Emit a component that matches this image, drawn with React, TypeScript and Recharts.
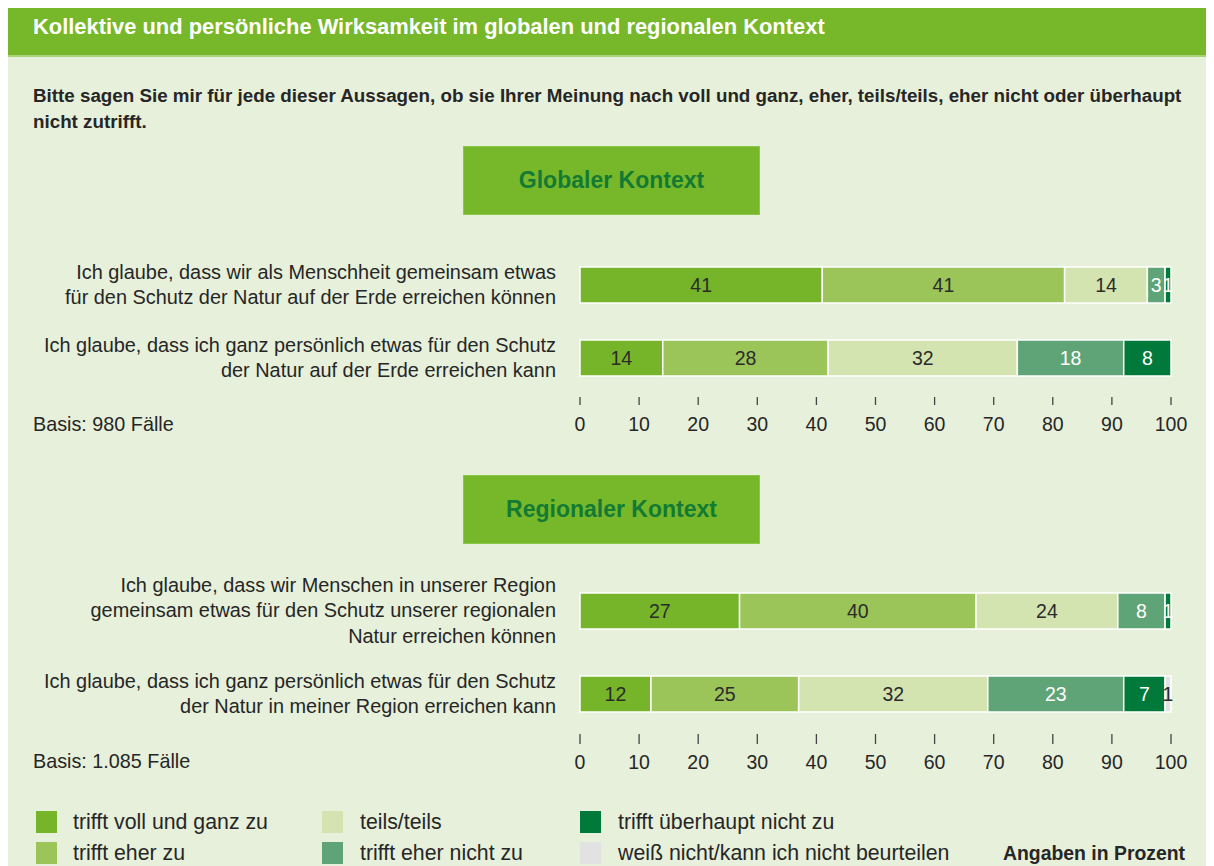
import React from 'react';
import { BarChart, Bar, XAxis, YAxis, LabelList } from 'recharts';

// ---------- data ----------
const seriesKeys = ['voll', 'eher', 'teils', 'eherNicht', 'nicht', 'weissNicht'];
const seriesNames = [
  'trifft voll und ganz zu',
  'trifft eher zu',
  'teils/teils',
  'trifft eher nicht zu',
  'trifft überhaupt nicht zu',
  'weiß nicht/kann ich nicht beurteilen',
];
const seriesColors = ['#76b52a', '#9bc459', '#d3e4b0', '#5fa476', '#00793a', '#e2e2e2'];
const labelColors = ['#2b2b2b', '#2b2b2b', '#2b2b2b', '#ffffff', '#ffffff', '#2b2b2b'];

const globalCategories = [
  'Ich glaube, dass wir als Menschheit gemeinsam etwas\nfür den Schutz der Natur auf der Erde erreichen können',
  'Ich glaube, dass ich ganz persönlich etwas für den Schutz\nder Natur auf der Erde erreichen kann',
];
const globalVoll = [41, 14];
const globalEher = [41, 28];
const globalTeils = [14, 32];
const globalEherNicht = [3, 18];
const globalNicht = [1, 8];
const globalWeissNicht = [0, 0];

const regionalCategories = [
  'Ich glaube, dass wir Menschen in unserer Region\ngemeinsam etwas für den Schutz unserer regionalen\nNatur erreichen können',
  'Ich glaube, dass ich ganz persönlich etwas für den Schutz\nder Natur in meiner Region erreichen kann',
];
const regionalVoll = [27, 12];
const regionalEher = [40, 25];
const regionalTeils = [24, 32];
const regionalEherNicht = [8, 23];
const regionalNicht = [1, 7];
const regionalWeissNicht = [0, 1];

const axisTicks = [0, 10, 20, 30, 40, 50, 60, 70, 80, 90, 100];

const buildRows = (cats: string[], cols: number[][]) =>
  cats.map((name, i) => {
    const row: any = { name };
    seriesKeys.forEach((k, s) => (row[k] = cols[s][i]));
    return row;
  });

const globalData = buildRows(globalCategories, [
  globalVoll, globalEher, globalTeils, globalEherNicht, globalNicht, globalWeissNicht,
]);
const regionalData = buildRows(regionalCategories, [
  regionalVoll, regionalEher, regionalTeils, regionalEherNicht, regionalNicht, regionalWeissNicht,
]);

// ---------- styles ----------
const FONT = "'Liberation Sans', Arial, sans-serif";
const TEXT = '#262626';
const PANEL_BG = '#e7f0da';
const HEADER_GREEN = '#77b72a';
const BOX_TEXT = '#137a34';

const px = (v: number) => v - 8; // page coords -> panel coords

const makeYTick = (lineHeight: number) => (props: any) => {
  const { x, y, payload } = props;
  const lines = String(payload.value).split('\n');
  const start = y - ((lines.length - 1) * lineHeight) / 2;
  return (
    <text x={x} y={start} textAnchor="end" fill={TEXT} fontFamily={FONT} fontSize={19.9}>
      {lines.map((l, i) => (
        <tspan key={i} x={x} dy={i === 0 ? '0.35em' : lineHeight}>
          {l}
        </tspan>
      ))}
    </text>
  );
};

const makeXTick = (lineTop: number, lineBottom: number, textCenter: number) => (props: any) => {
  const { x, y, payload } = props;
  return (
    <g>
      <line x1={x} x2={x} y1={y + lineTop} y2={y + lineBottom} stroke="#444" strokeWidth={1.3} />
      <text
        x={x}
        y={y + textCenter}
        textAnchor="middle"
        dominantBaseline="central"
        fill={TEXT}
        fontFamily={FONT}
        fontSize={19.5}
      >
        {payload.value}
      </text>
    </g>
  );
};

const makeBarLabel = (color: string) => (props: any) => {
  const { x, y, width, height, value } = props;
  if (!value) return null;
  return (
    <text
      x={x + width / 2}
      y={y + height / 2}
      textAnchor="middle"
      dominantBaseline="central"
      fill={color}
      fontFamily={FONT}
      fontSize={19.5}
    >
      {value}
    </text>
  );
};

type ChartProps = {
  data: any[];
  top: number;
  plotTop: number;
  plotHeight: number;
  lineHeight: number;
  tickCfg: [number, number, number];
};

const StackChart = ({ data, top, plotTop, plotHeight, lineHeight, tickCfg }: ChartProps) => {
  const axisH = 46;
  const height = plotTop + plotHeight + axisH;
  return (
    <div style={{ position: 'absolute', left: 0, top: px(top) }}>
      <BarChart
        width={1200}
        height={height}
        data={data}
        layout="vertical"
        margin={{ top: plotTop, right: 37, bottom: 0, left: 0 }}
        barSize={36}
      >
        <XAxis
          type="number"
          domain={[0, 100]}
          ticks={axisTicks}
          interval={0}
          axisLine={false}
          tickLine={false}
          tickSize={0}
          tickMargin={0}
          height={axisH}
          tick={makeXTick(tickCfg[0], tickCfg[1], tickCfg[2])}
        />
        <YAxis
          type="category"
          dataKey="name"
          width={572}
          axisLine={false}
          tickLine={false}
          tickSize={0}
          tickMargin={24}
          interval={0}
          tick={makeYTick(lineHeight)}
        />
        {seriesKeys.map((k, i) => (
          <Bar
            key={k}
            dataKey={k}
            name={seriesNames[i]}
            stackId="a"
            fill={seriesColors[i]}
            stroke="#ffffff"
            strokeWidth={1.5}
            isAnimationActive={false}
          >
            <LabelList dataKey={k} content={makeBarLabel(labelColors[i])} />
          </Bar>
        ))}
      </BarChart>
    </div>
  );
};

const ContextBox = ({ title, top }: { title: string; top: number }) => (
  <div
    style={{
      position: 'absolute',
      left: px(463),
      top: px(top),
      width: 297,
      height: 69,
      background: HEADER_GREEN,
      boxShadow: 'inset 0 0 0 1px #8cc64a',
      display: 'flex',
      alignItems: 'center',
      justifyContent: 'center',
      color: BOX_TEXT,
      fontWeight: 'bold',
      fontSize: 23,
      fontFamily: FONT,
    }}
  >
    {title}
  </div>
);

const textStyle = (
  left: number,
  centerY: number,
  size: number,
  bold = false,
  boxH = 26
): React.CSSProperties => ({
  position: 'absolute',
  left: px(left),
  top: px(centerY) - boxH / 2,
  height: boxH,
  lineHeight: `${boxH}px`,
  fontSize: size,
  fontWeight: bold ? 'bold' : 'normal',
  fontFamily: FONT,
  color: TEXT,
  whiteSpace: 'nowrap',
});

const legendCols = [
  { sw: 36, tx: 73 },
  { sw: 322, tx: 360 },
  { sw: 580, tx: 618 },
];
const legendRows = [822, 853];

export default function App() {
  return (
    <div
      style={{
        position: 'relative',
        width: 1200,
        height: 858,
        background: PANEL_BG,
        overflow: 'hidden',
        fontFamily: FONT,
      }}
    >
      {/* header */}
      <div
        style={{
          position: 'absolute',
          left: 0,
          top: 0,
          width: 1200,
          height: 47,
          background: HEADER_GREEN,
          borderBottom: '2px solid #a9d178',
        }}
      />
      <div style={{ ...textStyle(33, 27, 21.9, true), color: '#ffffff' }}>
        Kollektive und persönliche Wirksamkeit im globalen und regionalen Kontext
      </div>

      {/* question */}
      <div style={textStyle(33, 96, 18.8, true)}>
        Bitte sagen Sie mir für jede dieser Aussagen, ob sie Ihrer Meinung nach voll und ganz, eher, teils/teils, eher nicht oder überhaupt
      </div>
      <div style={textStyle(33, 122, 18.8, true)}>nicht zutrifft.</div>

      <ContextBox title="Globaler Kontext" top={146} />
      <StackChart
        data={globalData}
        top={240}
        plotTop={8}
        plotHeight={146}
        lineHeight={25}
        tickCfg={[3, 11, 30]}
      />
      <div style={textStyle(33, 424, 19.8)}>Basis: 980 Fälle</div>

      <ContextBox title="Regionaler Kontext" top={475} />
      <StackChart
        data={regionalData}
        top={560}
        plotTop={9}
        plotHeight={166}
        lineHeight={25.5}
        tickCfg={[-1, 9, 27]}
      />
      <div style={textStyle(33, 761, 19.8)}>Basis: 1.085 Fälle</div>

      {/* legend */}
      {seriesKeys.map((k, i) => {
        const col = legendCols[Math.floor(i / 2)];
        const cy = legendRows[i % 2];
        return (
          <React.Fragment key={k}>
            <div
              style={{
                position: 'absolute',
                left: px(col.sw),
                top: px(cy) - 11,
                width: 21,
                height: 22,
                background: seriesColors[i],
              }}
            />
            <div style={textStyle(col.tx, cy, 21.3, false, 22)}>{seriesNames[i]}</div>
          </React.Fragment>
        );
      })}
      <div style={textStyle(1003, legendRows[1], 19.4, true, 22)}>Angaben in Prozent</div>
    </div>
  );
}
